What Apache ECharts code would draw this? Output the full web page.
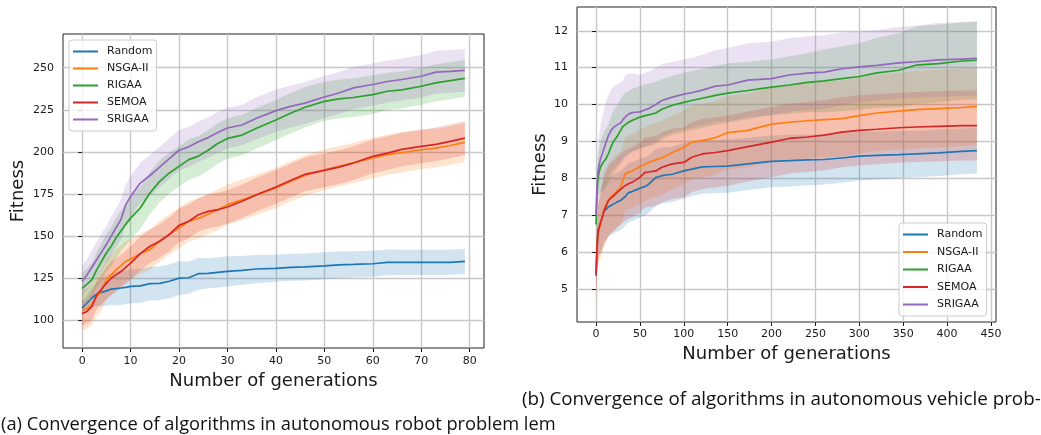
<!DOCTYPE html>
<html>
<head>
<meta charset="utf-8">
<script src="https://cdn.jsdelivr.net/npm/echarts@6/dist/echarts.min.js"></script>
<style>
  html, body { margin: 0; padding: 0; background: #ffffff; }
  #chart { width: 1041px; height: 435px; }
</style>
</head>
<body>
<div id="chart"></div>
<script>
// ---- shared ----
const ALGORITHMS = ['Random', 'NSGA-II', 'RIGAA', 'SEMOA', 'SRIGAA'];
const COLORS = ['#1f77b4', '#ff7f0e', '#2ca02c', '#d62728', '#9467bd'];
const BAND_COLORS = ['rgba(31,119,180,0.2)', 'rgba(255,127,14,0.2)', 'rgba(44,160,44,0.2)',
                     'rgba(214,39,40,0.2)', 'rgba(148,103,189,0.2)'];

// ---- (a) autonomous robot problem: mean fitness and std per generation ----
const robotGens = [0,1,2,3,4,5,6,7,8,9, 10,12,14,16,18,20,22,24,26,28, 30,33,36,40,43,46,50,53,56,60, 63,66,70,73,76,79];
const robotRandom = [107.3,110.3,113.3,115.5,116.6,117.5,118.6,118.8,119.2,119.6, 120.2,120.5,121.8,122,123.2,125.1,125.3,127.7,127.9,128.5, 129.1,129.7,130.5,130.9,131.5,131.7,132.4,133,133.2,133.6, 134.4,134.4,134.4,134.4,134.4,135];
const robotNsga = [106.3,107,109.3,114,118,124,127,130,132.5,135, 136.5,139.5,142,147,151,154.8,158.8,160.5,163,165.7, 168.7,171.6,174.5,178.6,182.5,186,189.4,191.4,193.5,196.4, 198.4,199.6,201.3,202.3,203.8,205.7];
const robotRigaa = [119,121.5,124,130,135,140,144,149,153,157, 160.7,166.7,175.6,182.5,187.5,191.4,195.4,197.5,201,205, 208,210,214,219,223,226.5,230,231.5,232.3,234, 236,236.8,239,241,242.3,243.7];
const robotSemoa = [104,105.3,108.3,115,118.5,122,125,127,129,131.5, 134,139.6,144,147,151,156.4,158.8,162.7,164.7,165.7, 167.3,170.7,174.6,179.2,183,186.7,189,191,193.4,197.4, 199.3,201.5,203.3,204.5,206.3,208.2];
const robotSrigaa = [123.1,127,131.5,136,140.5,145,150,155,159.8,168.7, 173.6,181.5,186,191,196,201,203,206,208.5,211.5, 214.2,216,220,224.5,227,229,232.6,235,238,240, 241.8,243,244.9,247.4,247.8,248.4];

const robotRandomStd = [4,5,6,7,8,9,9.5,10,10,10, 10,10,10,10,10,10,9.5,9.5,9,9, 9,8.5,8.5,8,8,8,8,8,7.8,7.7, 7.6,7.5,7.5,7.5,7.5,7.5];
const robotNsgaStd = [12,12,12,12,12,12,12,12,12,12, 12,12,12,12,12,12,12,12,12,12, 12,12,12,12,12,12,12,12,12,12, 12,12,11.5,11.5,11.5,11.5];
const robotRigaaStd = [9,9.5,10,10.5,11,11,11.5,12,12,12.5, 12.5,12.5,12.5,12.5,12,12,12,12,12,12, 12,12,12,12,12,12,11.5,11.5,11.5,11.5, 11,11,11,11,11,11];
const robotSemoaStd = [7,7.5,8,8.5,9,9.5,10,10,10,10, 10,10,10,10,10,10,10,10,10,10, 10,10,10,10,10,10,10,10,10,10, 10,10,10,10,10,10];
const robotSrigaaStd = [9,9.5,10,10.5,11,11,11.5,11.5,12,12, 12,12,12,12,12,12,12,12,12,12, 12,12,12.5,12.5,12.5,12.5,12.5,12.5,12.5,12.5, 12.5,12.5,12.7,12.7,12.7,12.7];

const robotXTicks = [0, 10, 20, 30, 40, 50, 60, 70, 80];
const robotYTicks = [100, 125, 150, 175, 200, 225, 250];

// ---- (b) autonomous vehicle problem ----
const vehicleGens = [0,1,2,3,5,7,9,11,14,17, 20,24,28,30,33,37,41,45,50,56, 60,68,75,87,100,109,121,136,150,173, 200,220,241,260,280,300,320,345,365,390, 417,434];
const vehicleRandom = [5.35,5.9,6.57,6.65,6.75,6.95,7.11,7.12,7.22,7.26, 7.3,7.36,7.4,7.43,7.5,7.61,7.64,7.68,7.73,7.78, 7.84,8.02,8.07,8.11,8.2,8.25,8.31,8.32,8.33,8.39, 8.46,8.48,8.5,8.51,8.55,8.6,8.62,8.64,8.66,8.69, 8.73,8.75];
const vehicleNsga = [5.4,6.1,6.45,6.6,6.7,6.95,7.16,7.28,7.4,7.5, 7.56,7.66,7.75,7.8,8.12,8.16,8.2,8.25,8.32,8.38, 8.43,8.5,8.55,8.7,8.84,8.98,9.02,9.1,9.24,9.3, 9.47,9.52,9.56,9.59,9.62,9.7,9.77,9.82,9.86,9.89, 9.92,9.95];
const vehicleRigaa = [6.75,7.57,7.9,8.12,8.3,8.39,8.46,8.52,8.66,8.85, 9.0,9.13,9.3,9.39,9.45,9.52,9.57,9.61,9.66,9.7, 9.72,9.77,9.87,9.98,10.06,10.11,10.17,10.25,10.31,10.38, 10.47,10.53,10.6,10.64,10.7,10.76,10.86,10.93,11.07,11.11, 11.18,11.2];
const vehicleSemoa = [5.4,6.12,6.45,6.62,6.8,6.93,7.1,7.21,7.39,7.47, 7.52,7.62,7.7,7.74,7.8,7.85,7.89,7.95,8.03,8.16, 8.17,8.2,8.3,8.39,8.43,8.57,8.66,8.7,8.75,8.86, 8.98,9.08,9.12,9.17,9.25,9.3,9.33,9.37,9.39,9.41, 9.43,9.43];
const vehicleSrigaa = [7.0,7.75,8.1,8.3,8.52,8.65,8.8,8.95,9.15,9.3, 9.38,9.45,9.5,9.52,9.66,9.74,9.78,9.79,9.8,9.86, 9.89,10.0,10.11,10.2,10.28,10.32,10.39,10.5,10.53,10.66, 10.7,10.8,10.85,10.88,10.97,11.02,11.06,11.13,11.16,11.21, 11.23,11.25];

const vehicleRandomStd = [0.3,0.45,0.6,0.7,0.75,0.8,0.8,0.8,0.8,0.8, 0.8,0.8,0.8,0.8,0.8,0.8,0.8,0.8,0.8,0.78, 0.78,0.77,0.76,0.75,0.75,0.74,0.73,0.72,0.72,0.71, 0.7,0.7,0.69,0.68,0.67,0.66,0.65,0.64,0.63,0.63, 0.62,0.62];
const vehicleNsgaStd = [0.9,0.8,0.8,0.85,0.9,0.95,1.0,1.0,1.0,1.0, 1.0,1.0,1.0,1.0,1.0,1.0,1.0,1.0,1.0,1.0, 1.0,1.0,1.0,1.0,1.0,1.0,1.0,1.0,1.0,1.0, 1.0,1.0,1.02,1.02,1.03,1.03,1.04,1.04,1.05,1.05, 1.05,1.05];
const vehicleRigaaStd = [0.3,0.45,0.55,0.6,0.7,0.75,0.8,0.8,0.8,0.82, 0.85,0.85,0.85,0.85,0.85,0.85,0.85,0.85,0.85,0.85, 0.85,0.85,0.82,0.8,0.8,0.8,0.8,0.8,0.8,0.78, 0.75,0.78,0.8,0.85,0.88,0.9,0.95,1.0,1.05,1.05, 1.05,1.05];
const vehicleSemoaStd = [0.4,0.6,0.75,0.8,0.85,0.9,0.95,0.95,0.95,0.95, 0.95,0.95,0.95,0.95,0.95,0.95,0.95,0.95,0.95,0.95, 0.95,0.95,0.95,0.95,0.95,0.95,0.95,0.95,0.95,0.95, 0.95,0.95,0.95,0.95,0.95,0.95,0.95,0.95,0.95,0.95, 0.95,0.95];
const vehicleSrigaaStd = [0.3,0.55,0.7,0.8,0.9,1.0,1.05,1.1,1.1,1.1, 1.1,1.1,1.1,1.1,1.1,1.1,1.05,1.05,1.0,1.0, 1.0,1.0,0.98,0.96,0.95,0.95,0.96,0.97,1.0,1.0, 1.0,1.0,1.0,1.0,0.98,0.96,0.96,0.97,0.98,1.0, 1.0,1.0];

const vehicleXTicks = [0, 50, 100, 150, 200, 250, 300, 350, 400, 450];
const vehicleYTicks = [5, 6, 7, 8, 9, 10, 11, 12];

const robotMeans = [robotRandom, robotNsga, robotRigaa, robotSemoa, robotSrigaa];
const robotStds = [robotRandomStd, robotNsgaStd, robotRigaaStd, robotSemoaStd, robotSrigaaStd];
const vehicleMeans = [vehicleRandom, vehicleNsga, vehicleRigaa, vehicleSemoa, vehicleSrigaa];
const vehicleStds = [vehicleRandomStd, vehicleNsgaStd, vehicleRigaaStd, vehicleSemoaStd, vehicleSrigaaStd];

const FONT = 'DejaVu Sans';
const INK = '#1a1a1a';

// mean line
function meanLine(idx, gens, mean, axisIdx) {
  return {
    type: 'line', name: ALGORITHMS[idx],
    xAxisIndex: axisIdx, yAxisIndex: axisIdx,
    data: gens.map((g, i) => [g, mean[i]]),
    symbol: 'none', showSymbol: false, smooth: false,
    lineStyle: { color: COLORS[idx], width: 1.7 },
    itemStyle: { color: COLORS[idx] },
    silent: true
  };
}

// mean ± std shaded band, drawn as one polygon through the axis scales
function stdBand(idx, gens, mean, std, axisIdx) {
  const rows = gens.map((g, i) => [g, mean[i] - std[i], mean[i] + std[i]]);
  return {
    type: 'custom', name: ALGORITHMS[idx],
    xAxisIndex: axisIdx, yAxisIndex: axisIdx,
    data: rows, encode: { x: 0, y: [1, 2] },
    silent: true,
    renderItem: function (params, api) {
      if (params.dataIndex !== 0) return null;
      const upper = rows.map(r => api.coord([r[0], r[2]]));
      const lower = rows.map(r => api.coord([r[0], r[1]])).reverse();
      return {
        type: 'polygon',
        shape: { points: upper.concat(lower) },
        style: { fill: BAND_COLORS[idx], stroke: null }
      };
    }
  };
}

function makeXAxis(gridIdx, min, max, ticks, labelMargin, nameGap) {
  return {
    type: 'value', gridIndex: gridIdx, min: min, max: max,
    name: 'Number of generations', nameLocation: 'middle', nameGap: nameGap,
    nameTextStyle: { fontFamily: FONT, fontSize: 18, color: INK },
    axisLine: { show: false },
    axisTick: { show: true, customValues: ticks, length: 4, lineStyle: { color: INK, width: 1 } },
    axisLabel: { customValues: ticks, margin: labelMargin, fontFamily: FONT, fontSize: 11, color: INK },
    splitLine: { show: true, lineStyle: { color: '#c8c8c8', width: 1.4 } }
  };
}

function makeYAxis(gridIdx, min, max, ticks, nameGap) {
  return {
    type: 'value', gridIndex: gridIdx, min: min, max: max,
    name: 'Fitness', nameLocation: 'middle', nameGap: nameGap,
    nameTextStyle: { fontFamily: FONT, fontSize: 18, color: INK },
    axisLine: { show: false },
    axisTick: { show: true, customValues: ticks, length: 4, lineStyle: { color: INK, width: 1 } },
    axisLabel: { customValues: ticks, margin: 9, fontFamily: FONT, fontSize: 11, color: INK },
    splitLine: { show: true, lineStyle: { color: '#c8c8c8', width: 1.4 } }
  };
}

function makeLegend(left, top, gap) {
  return {
    orient: 'vertical', left: left, top: top,
    data: ALGORITHMS, icon: 'rect', itemWidth: 25, itemHeight: 2, itemGap: gap,
    padding: [5, 4, 5, 4],
    borderColor: '#cccccc', borderWidth: 1, borderRadius: 3,
    backgroundColor: 'rgba(255,255,255,0.8)',
    selectedMode: false,
    textStyle: { fontFamily: FONT, fontSize: 11, color: INK, lineHeight: 13, padding: [0, 0, 0, 4] }
  };
}

const series = [];
for (let k = 0; k < ALGORITHMS.length; k++) {
  series.push(meanLine(k, robotGens, robotMeans[k], 0));
  series.push(stdBand(k, robotGens, robotMeans[k], robotStds[k], 0));
}
for (let k = 0; k < ALGORITHMS.length; k++) {
  series.push(meanLine(k, vehicleGens, vehicleMeans[k], 1));
  series.push(stdBand(k, vehicleGens, vehicleMeans[k], vehicleStds[k], 1));
}

const chart = echarts.init(document.getElementById('chart'), null, { renderer: 'canvas' });
chart.setOption({
  animation: false,
  backgroundColor: '#ffffff',
  textStyle: { fontFamily: FONT },
  grid: [
    { left: 63, top: 34, width: 421, height: 314, show: true, borderColor: '#222', borderWidth: 1,
      backgroundColor: 'transparent', containLabel: false, outerBoundsMode: 'none' },
    { left: 577, top: 7, width: 419, height: 315, show: true, borderColor: '#222', borderWidth: 1,
      backgroundColor: 'transparent', containLabel: false, outerBoundsMode: 'none' }
  ],
  xAxis: [
    makeXAxis(0, -3.95, 82.95, robotXTicks, 8, 23),
    makeXAxis(1, -21.7, 455.7, vehicleXTicks, 7, 22)
  ],
  yAxis: [
    makeYAxis(0, 83.6, 270.0, robotYTicks, 36),
    makeYAxis(1, 4.104, 12.644, vehicleYTicks, 28)
  ],
  legend: [ makeLegend(69, 40, 4), makeLegend(899, 223, 4.5) ],
  graphic: [
    { type: 'text', left: 522, top: 390,
      style: { text: '(b) Convergence of algorithms in autonomous vehicle prob-',
               font: '18.8px "Open Sans"', fill: '#111' } },
    { type: 'text', left: 1, top: 416,
      style: { text: '(a) Convergence of algorithms in autonomous robot problem lem',
               font: '18.3px "Open Sans"', fill: '#111' } }
  ],
  series: series
});
</script>
</body>
</html>
